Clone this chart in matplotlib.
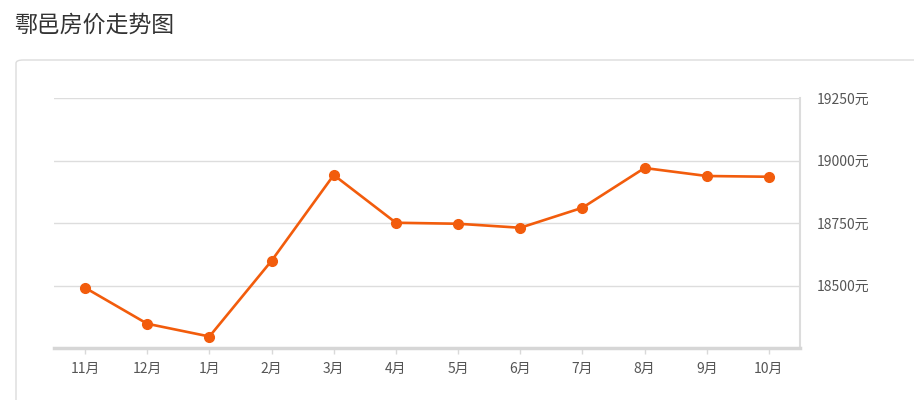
import matplotlib
matplotlib.use('Agg')
import matplotlib.pyplot as plt
from matplotlib.patches import FancyBboxPatch

plt.rcParams['font.family'] = ['Noto Sans CJK SC', 'DejaVu Sans']

# Data
months = ['11月', '12月', '1月', '2月', '3月', '4月', '5月', '6月', '7月', '8月', '9月', '10月']
prices = [18491, 18347, 18296, 18599, 18942, 18751, 18747, 18731, 18811, 18970, 18938, 18935]
y_ticks = [18500, 18750, 19000, 19250]

fig = plt.figure(figsize=(9.14, 4.0), dpi=100)

# Title
fig.text(14 / 914, 1 - 25 / 400, '鄠邑房价走势图', fontsize=16.5, color='#333333',
         ha='left', va='center')

# Card border around chart
card = FancyBboxPatch((16 / 914, -0.1), 1.0, 1 - 60 / 400 + 0.1,
                      boxstyle='round,pad=0,rounding_size=0.008',
                      transform=fig.transFigure, facecolor='white',
                      edgecolor='#dcdcdc', linewidth=1.0, zorder=-5)
fig.patches.append(card)

ax = fig.add_axes([54 / 914, 52 / 400, (800 - 54) / 914, (348 - 98) / 400])
ax.set_zorder(2)
ax.set_facecolor('none')

x = list(range(len(months)))
ax.plot(x, prices, color='#f25c0c', linewidth=1.9, marker='o', markersize=7,
        markerfacecolor='#f25c0c', markeredgecolor='#f25c0c', zorder=3, clip_on=False)

ax.set_xlim(-0.5, len(months) - 0.5)
ax.set_ylim(18250, 19250)
ax.set_xticks(x)
ax.set_xticklabels(months)
ax.set_yticks(y_ticks)
ax.set_yticklabels([f'{v}元' for v in y_ticks])

ax.yaxis.tick_right()
ax.tick_params(axis='y', length=0, pad=12, labelsize=10, labelcolor='#555555')
ax.tick_params(axis='x', length=4, width=1, color='#d9d9d9', pad=6,
               labelsize=10, labelcolor='#555555')

ax.grid(axis='y', color='#dddddd', linewidth=1)
ax.set_axisbelow(True)

for side in ['top', 'left']:
    ax.spines[side].set_visible(False)
ax.spines['bottom'].set_color('#d6d6d6')
ax.spines['bottom'].set_linewidth(2.5)
ax.spines['right'].set_color('#dcdcdc')
ax.spines['right'].set_linewidth(1.5)

fig.savefig('out.png', dpi=100)
